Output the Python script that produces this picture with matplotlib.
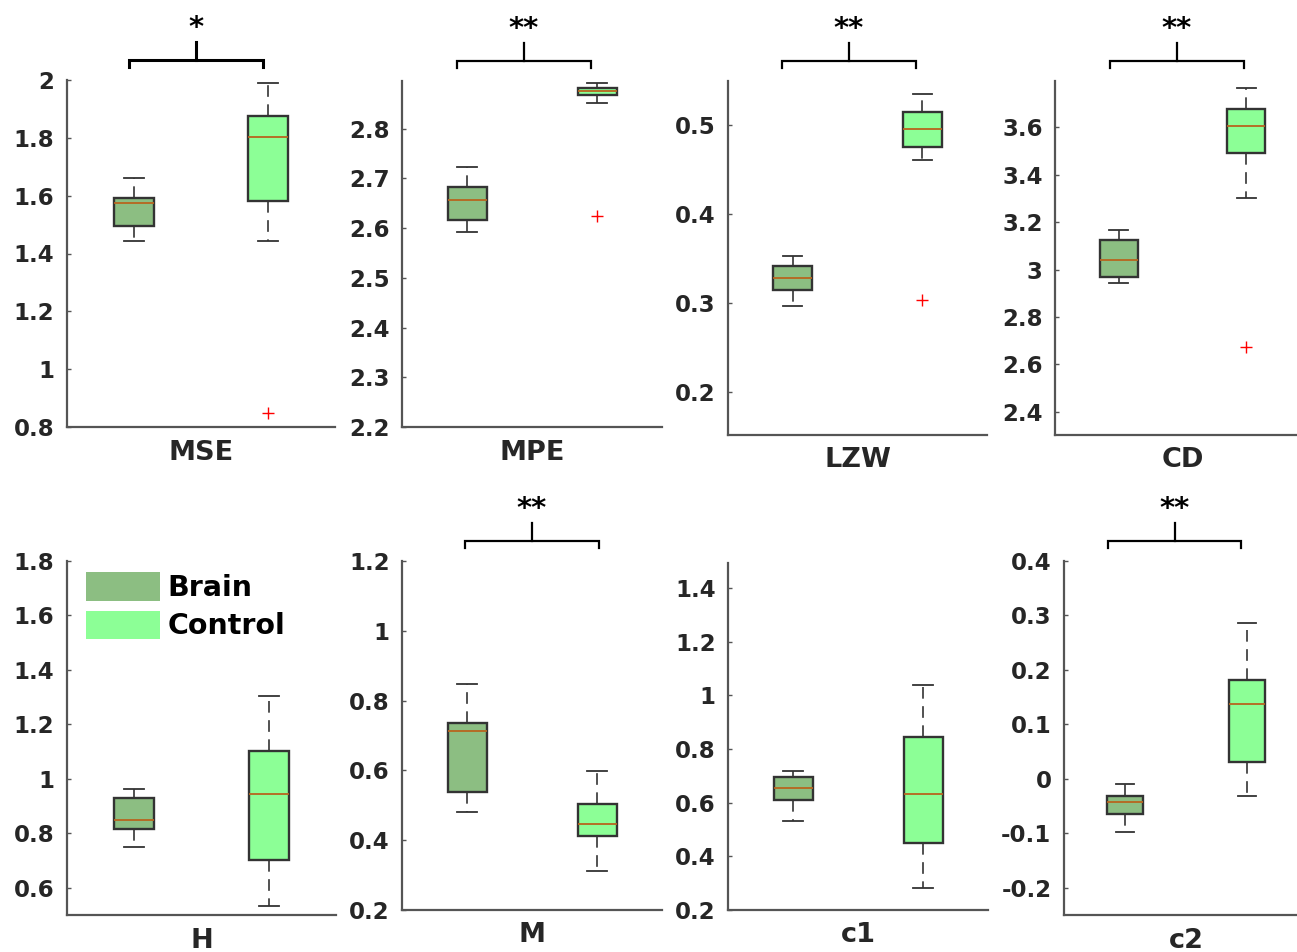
import matplotlib
matplotlib.use("Agg")
import matplotlib.pyplot as plt
import matplotlib.transforms as mtransforms
from matplotlib.patches import Patch

# ---------------- data ----------------
metrics = ["MSE", "MPE", "LZW", "CD", "H", "M", "c1", "c2"]
groups = ["Brain", "Control"]

# [lower whisker, Q1, median, Q3, upper whisker]
brain_stats = [
    [1.443, 1.495, 1.576, 1.591, 1.660],
    [2.592, 2.617, 2.657, 2.683, 2.722],
    [0.297, 0.315, 0.328, 0.342, 0.353],
    [2.943, 2.970, 3.040, 3.124, 3.165],
    [0.748, 0.815, 0.850, 0.929, 0.962],
    [0.481, 0.538, 0.714, 0.736, 0.847],
    [0.532, 0.610, 0.656, 0.697, 0.719],
    [-0.098, -0.064, -0.042, -0.031, -0.010],
]
control_stats = [
    [1.443, 1.580, 1.804, 1.877, 1.989],
    [2.851, 2.867, 2.875, 2.882, 2.891],
    [0.460, 0.475, 0.495, 0.514, 0.534],
    [3.300, 3.492, 3.603, 3.676, 3.764],
    [0.534, 0.703, 0.945, 1.103, 1.306],
    [0.313, 0.413, 0.446, 0.504, 0.599],
    [0.281, 0.451, 0.634, 0.844, 1.039],
    [-0.031, 0.031, 0.138, 0.182, 0.286],
]
brain_outliers = [[], [], [], [], [], [], [], []]
control_outliers = [[0.847], [2.625], [0.303], [2.675], [], [], [], []]

significance = ["*", "**", "**", "**", "", "**", "", "**"]
# bracket end positions (in x data units of each panel)
bracket_x = [(0.963, 1.963), (0.923, 1.954), (0.915, 1.954), (0.930, 1.984),
             None, (0.985, 2.015), None, (0.862, 1.951)]

ylims = [(0.8, 2.0), (2.2, 2.896), (0.152, 0.549), (2.303, 3.794),
         (0.5, 1.8), (0.2, 1.2), (0.2, 1.493), (-0.25, 0.4)]
yticks = [
    [0.8, 1.0, 1.2, 1.4, 1.6, 1.8, 2.0],
    [2.2, 2.3, 2.4, 2.5, 2.6, 2.7, 2.8],
    [0.2, 0.3, 0.4, 0.5],
    [2.4, 2.6, 2.8, 3.0, 3.2, 3.4, 3.6],
    [0.6, 0.8, 1.0, 1.2, 1.4, 1.6, 1.8],
    [0.2, 0.4, 0.6, 0.8, 1.0, 1.2],
    [0.2, 0.4, 0.6, 0.8, 1.0, 1.2, 1.4],
    [-0.2, -0.1, 0.0, 0.1, 0.2, 0.3, 0.4],
]

# ---------------- style ----------------
W, H = 1297, 952
DPI = 100
brain_color = "#8cbe82"
control_color = "#8cff96"
edge_color = "#333333"
median_color = "#b8651e"
axis_color = "#555555"
text_color = "#262626"

# axes rectangles in pixels: left, right, top, bottom (y from top)
rects = [
    (67, 335, 80, 427), (402, 662, 81, 427), (728, 987, 81, 435), (1055, 1310, 81, 435),
    (67, 336, 561, 915), (402, 662, 561, 910), (728, 988, 563, 910), (1064, 1308, 561, 915),
]

def fmt(v):
    s = f"{v:.1f}"
    if s.endswith(".0"):
        s = s[:-2]
    if s == "-0":
        s = "0"
    return s

fig = plt.figure(figsize=(W / DPI, H / DPI), dpi=DPI)
fig.patch.set_facecolor("white")

for i, name in enumerate(metrics):
    l, r, t, b = rects[i]
    ax = fig.add_axes([l / W, 1 - b / H, (r - l) / W, (b - t) / H])
    stats = []
    for vals, outs, lab in ((brain_stats[i], brain_outliers[i], groups[0]),
                            (control_stats[i], control_outliers[i], groups[1])):
        stats.append(dict(whislo=vals[0], q1=vals[1], med=vals[2], q3=vals[3],
                          whishi=vals[4], fliers=outs, label=lab))
    bp = ax.bxp(stats, positions=[1, 2], widths=0.3, patch_artist=True,
                showfliers=True,
                boxprops=dict(edgecolor=edge_color, linewidth=1.7),
                whiskerprops=dict(color=edge_color, linewidth=1.2, linestyle=(0, (7, 4.5))),
                capprops=dict(color=edge_color, linewidth=1.3),
                medianprops=dict(color=median_color, linewidth=1.3),
                flierprops=dict(marker="+", markeredgecolor="red", markersize=9,
                                markeredgewidth=1.0, linestyle="none"),
                capwidths=0.15)
    for patch, c in zip(bp["boxes"], (brain_color, control_color)):
        patch.set_facecolor(c)

    ax.set_xlim(0.5, 2.5)
    ax.set_ylim(*ylims[i])
    ax.set_yticks(yticks[i])
    ax.set_yticklabels([fmt(v) for v in yticks[i]])
    ax.set_xticks([])
    for s in ("top", "right"):
        ax.spines[s].set_visible(False)
    for s in ("left", "bottom"):
        ax.spines[s].set_color(axis_color)
        ax.spines[s].set_linewidth(1.6)
    ax.tick_params(axis="y", direction="in", length=3, width=1.0, color=axis_color,
                   labelsize=16.5, labelcolor=text_color, pad=9)
    for lab in ax.get_yticklabels():
        lab.set_fontweight("bold")
    ax.set_xlabel(name, fontsize=19.5, fontweight="bold", color=text_color, labelpad=9)

    # significance bracket
    if significance[i]:
        hpx = b - t
        trans = mtransforms.blended_transform_factory(ax.transData, ax.transAxes)
        yb = 1 + 20 / hpx
        ye = 1 + 13 / hpx
        yc = 1 + 38 / hpx
        x0, x1 = bracket_x[i]
        xm = (x0 + x1) / 2
        lw = 2.2 if i == 0 else 1.6
        ax.plot([x0, x0, x1, x1], [ye, yb, yb, ye], color="black", lw=lw,
                transform=trans, clip_on=False, solid_joinstyle="miter")
        ax.plot([xm, xm], [yb, yc], color="black", lw=lw, transform=trans, clip_on=False)
        ax.text(xm, 1 + 44 / hpx, significance[i], transform=trans, ha="center",
                va="baseline", fontsize=21, fontweight="bold", color="black")

    if i == 4:
        handles = [Patch(facecolor=brain_color, edgecolor="none", label=groups[0]),
                   Patch(facecolor=control_color, edgecolor="none", label=groups[1])]
        leg = ax.legend(handles=handles, loc="upper left", bbox_to_anchor=(0.07, 0.968),
                        frameon=False, borderpad=0, borderaxespad=0,
                        handlelength=2.6, handleheight=1.15, handletextpad=0.28,
                        labelspacing=0.3, prop=dict(size=20.5, weight="bold"))
        for txt in leg.get_texts():
            txt.set_color("black")

fig.savefig("out.png", dpi=DPI, facecolor="white")
